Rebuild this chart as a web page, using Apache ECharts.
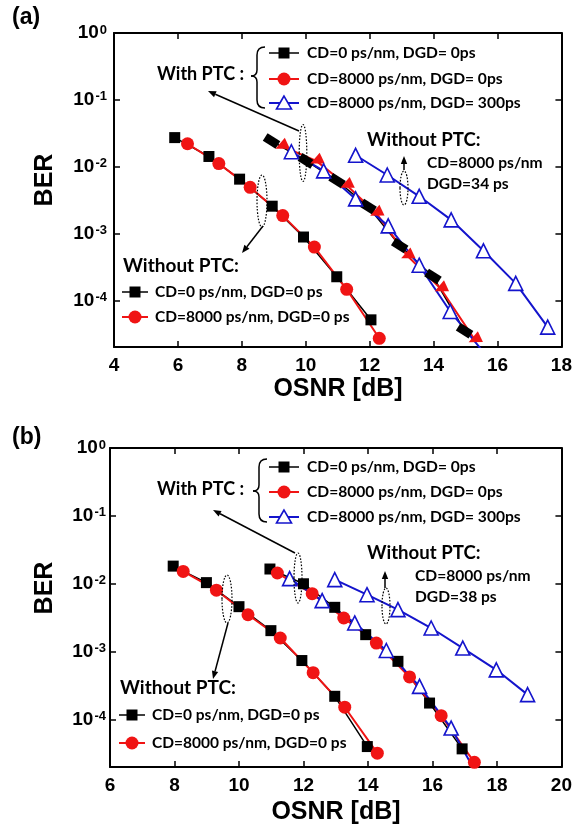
<!DOCTYPE html>
<html>
<head>
<meta charset="utf-8">
<script src="https://cdn.jsdelivr.net/npm/echarts@6/dist/echarts.min.js"></script>
<style>
  html, body { margin: 0; padding: 0; background: #fff; }
  #chart { width: 575px; height: 828px; }
</style>
</head>
<body>
<div id="chart"></div>
<script>
// ---- Panel (a): BER versus OSNR ----
const osnrA_noPtc_cd0    = [5.9, 6.97, 7.93, 8.95, 9.93, 10.97, 12.04];
const berA_noPtc_cd0     = [2.72e-2, 1.42e-2, 6.5e-3, 2.56e-3, 8.85e-4, 2.25e-4, 5.1e-5];
const osnrA_noPtc_cd8000 = [6.3, 7.28, 8.26, 9.28, 10.27, 11.28, 12.3];
const berA_noPtc_cd8000  = [2.2e-2, 1.11e-2, 4.9e-3, 1.85e-3, 6.25e-4, 1.46e-4, 2.7e-5];
const osnrA_ptc_cd0      = [8.93, 10.02, 10.98, 11.95, 12.94, 13.98, 14.97];
const berA_ptc_cd0       = [2.42e-2, 1.22e-2, 6.15e-3, 2.52e-3, 6.6e-4, 2.27e-4, 3.5e-5];
const osnrA_ptc_cd8000   = [9.24, 10.33, 11.27, 12.2, 13.17, 14.22, 15.28];
const berA_ptc_cd8000    = [2.04e-2, 1.22e-2, 5.3e-3, 2.03e-3, 4.67e-4, 1.5e-4, 2.6e-5];
const osnrA_ptc_dgd300   = [9.55, 10.56, 11.56, 12.58, 13.55, 14.52, 15.55];
const berA_ptc_dgd300    = [1.67e-2, 8.65e-3, 3.29e-3, 1.3e-3, 3.35e-4, 6.8e-5, 1.7e-5];
const osnrA_noPtc_dgd34  = [11.56, 12.55, 13.55, 14.55, 15.56, 16.57, 17.57];
const berA_noPtc_dgd34   = [1.48e-2, 7.5e-3, 3.6e-3, 1.6e-3, 5.5e-4, 1.79e-4, 3.97e-5];

// ---- Panel (b): BER versus OSNR ----
const osnrB_noPtc_cd0    = [7.96, 8.99, 10.0, 10.99, 11.95, 12.97, 13.98];
const berB_noPtc_cd0     = [1.82e-2, 1.04e-2, 4.6e-3, 2.04e-3, 7.4e-4, 2.2e-4, 4.0e-5];
const osnrB_noPtc_cd8000 = [8.27, 9.3, 10.28, 11.28, 12.3, 13.28, 14.29];
const berB_noPtc_cd8000  = [1.52e-2, 8.05e-3, 3.5e-3, 1.59e-3, 4.9e-4, 1.52e-4, 3.2e-5];
const osnrB_ptc_cd0      = [10.96, 12.0, 12.97, 13.93, 14.93, 15.91, 16.92];
const berB_ptc_cd0       = [1.65e-2, 1.0e-2, 4.5e-3, 1.78e-3, 7.2e-4, 1.75e-4, 3.7e-5];
const osnrB_ptc_cd8000   = [11.19, 12.27, 13.25, 14.26, 15.29, 16.27, 17.3];
const berB_ptc_cd8000    = [1.44e-2, 7.15e-3, 3.13e-3, 1.34e-3, 4.24e-4, 1.14e-4, 2.34e-5];
const osnrB_ptc_dgd300   = [11.57, 12.58, 13.59, 14.57, 15.6, 16.58, 17.6];
const berB_ptc_dgd300    = [1.19e-2, 5.64e-3, 2.65e-3, 1.04e-3, 3.08e-4, 7.5e-5, 1.0e-5];
const osnrB_noPtc_dgd38  = [12.97, 13.97, 14.93, 15.96, 16.94, 17.98, 18.95];
const berB_noPtc_dgd38   = [1.15e-2, 6.9e-3, 4.16e-3, 2.23e-3, 1.13e-3, 5.4e-4, 2.33e-4];

// FEC threshold and axis ranges
const berThreshold = 1e-3;
const osnrRangeA = [4, 18];
const osnrRangeB = [6, 20];
const berRange = [2e-5, 1];

const RED = '#f01414';
const BLUE = '#1414cc';
const BLACK = '#000000';
const NOTE_FONT = 'Lato, "Open Sans", sans-serif';
const AXIS_FONT = '"Liberation Sans", Arial, sans-serif';

const zip = (xs, ys) => xs.map((x, i) => [x, ys[i]]);

function xAxes(gridIndex, range) {
  const common = {
    gridIndex, type: 'value', min: range[0], max: range[1], interval: 2,
    axisLine: { show: true, onZero: false, lineStyle: { color: BLACK, width: 2 } },
    axisTick: { show: true, inside: true, length: 6, lineStyle: { color: BLACK, width: 1.5 } },
    splitLine: { show: false }
  };
  return [
    Object.assign({}, common, {
      position: 'bottom',
      axisLabel: { color: BLACK, fontSize: 19, fontWeight: 'bold', fontFamily: AXIS_FONT, margin: 9 }
    }),
    Object.assign({}, common, { position: 'top', axisLabel: { show: false } })
  ];
}

function yAxes(gridIndex, margin) {
  const common = {
    gridIndex, type: 'log', logBase: 10, min: berRange[0], max: berRange[1],
    axisLine: { show: true, onZero: false, lineStyle: { color: BLACK, width: 2 } },
    axisTick: { show: true, inside: true, length: 6, lineStyle: { color: BLACK, width: 1.5 } },
    minorTick: { show: false },
    splitLine: { show: false }
  };
  return [
    Object.assign({}, common, {
      position: 'left',
      axisLabel: {
        showMinLabel: false, margin,
        color: BLACK, fontSize: 19, fontWeight: 'bold', fontFamily: AXIS_FONT,
        formatter: v => '10{s|' + Math.round(Math.log10(v)) + '}',
        rich: { s: { fontSize: 13, fontWeight: 'bold', fontFamily: AXIS_FONT, color: BLACK, verticalAlign: 'top', padding: [0, 0, 0, 1] } }
      }
    }),
    Object.assign({}, common, { position: 'right', axisLabel: { show: false } })
  ];
}

function curve(name, xs, ys, xi, yi, color, symbol, extra) {
  return Object.assign({
    name, type: 'line', xAxisIndex: xi, yAxisIndex: yi,
    data: zip(xs, ys), color,
    lineStyle: { color, width: 2 },
    symbol, symbolSize: 12,
    itemStyle: { color },
    clip: true, silent: true, z: 3
  }, extra || {});
}

const openTriangle = {
  symbol: 'triangle', symbolSize: 14,
  itemStyle: { color: '#ffffff', borderColor: BLUE, borderWidth: 1.6 }
};

const thresholdLine = {
  silent: true, symbol: ['none', 'none'], label: { show: false },
  lineStyle: { type: 'dotted', color: '#8c8c4a', width: 1.6 },
  data: [{ yAxis: berThreshold }]
};

const series = [
  // panel (a)
  curve('A w/o PTC CD=0', osnrA_noPtc_cd0, berA_noPtc_cd0, 0, 0, BLACK, 'rect',
        { symbolSize: 11, lineStyle: { color: BLACK, width: 1.5 }, markLine: thresholdLine }),
  curve('A w/o PTC CD=8000', osnrA_noPtc_cd8000, berA_noPtc_cd8000, 0, 0, RED, 'circle', { symbolSize: 13 }),
  curve('A PTC CD=0', osnrA_ptc_cd0, berA_ptc_cd0, 0, 0, BLACK, 'rect',
        { symbolSize: [15, 9], symbolRotate: -32, lineStyle: { color: BLACK, width: 1.5 } }),
  curve('A PTC CD=8000', osnrA_ptc_cd8000, berA_ptc_cd8000, 0, 0, RED, 'triangle',
        { symbolSize: [12, 13], symbolRotate: 115 }),
  curve('A PTC DGD=300', osnrA_ptc_dgd300, berA_ptc_dgd300, 0, 0, BLUE, 'triangle', openTriangle),
  curve('A w/o PTC DGD=34', osnrA_noPtc_dgd34, berA_noPtc_dgd34, 0, 0, BLUE, 'triangle', openTriangle),
  // panel (b)
  curve('B w/o PTC CD=0', osnrB_noPtc_cd0, berB_noPtc_cd0, 2, 2, BLACK, 'rect',
        { symbolSize: 11, lineStyle: { color: BLACK, width: 1.5 }, markLine: thresholdLine }),
  curve('B w/o PTC CD=8000', osnrB_noPtc_cd8000, berB_noPtc_cd8000, 2, 2, RED, 'circle', { symbolSize: 13 }),
  curve('B PTC CD=0', osnrB_ptc_cd0, berB_ptc_cd0, 2, 2, BLACK, 'rect',
        { symbolSize: 11, lineStyle: { color: BLACK, width: 1.5 } }),
  curve('B PTC CD=8000', osnrB_ptc_cd8000, berB_ptc_cd8000, 2, 2, RED, 'circle', { symbolSize: 13 }),
  curve('B PTC DGD=300', osnrB_ptc_dgd300, berB_ptc_dgd300, 2, 2, BLUE, 'triangle', openTriangle),
  curve('B w/o PTC DGD=38', osnrB_noPtc_dgd38, berB_noPtc_dgd38, 2, 2, BLUE, 'triangle', openTriangle)
];

// ---- annotation helpers ----
function txt(s, x, y, size, opts) {
  const o = opts || {};
  return {
    type: 'text', x, y, rotation: o.rotation || 0, z: 10,
    style: {
      text: s, font: 'bold ' + size + 'px ' + (o.family || NOTE_FONT), fill: BLACK,
      textAlign: o.align || 'left', align: o.align || 'left',
      textVerticalAlign: 'middle', verticalAlign: 'middle'
    }
  };
}

function arrow(x1, y1, x2, y2) {
  const dx = x2 - x1, dy = y2 - y1, L = Math.hypot(dx, dy);
  const ux = dx / L, uy = dy / L, hl = 8, hw = 3.2;
  const bx = x2 - ux * hl, by = y2 - uy * hl;
  return [
    { type: 'line', z: 10, shape: { x1, y1, x2: bx, y2: by }, style: { stroke: BLACK, lineWidth: 1.5 } },
    { type: 'polygon', z: 10, shape: { points: [[x2, y2], [bx - uy * hw, by + ux * hw], [bx + uy * hw, by - ux * hw]] }, style: { fill: BLACK } }
  ];
}

function ring(cx, cy, rx, ry) {
  return { type: 'ellipse', z: 10, shape: { cx, cy, rx, ry },
           style: { fill: 'none', stroke: BLACK, lineWidth: 1.2, lineDash: [1.6, 1.6] } };
}

// curly brace built from quadratic curves and straight runs
function brace(x, top, bottom, tipX, tipY) {
  const st = { fill: 'none', stroke: BLACK, lineWidth: 1.5 };
  const q = (x1, y1, cx, cy, x2, y2) => ({ type: 'bezierCurve', z: 10, shape: { x1, y1, cpx1: cx, cpy1: cy, x2, y2 }, style: st });
  const l = (x1, y1, x2, y2) => ({ type: 'line', z: 10, shape: { x1, y1, x2, y2 }, style: st });
  return [
    q(x + 8, top, x, top, x, top + 8),
    l(x, top + 8, x, tipY - 6),
    q(x, tipY - 6, x, tipY, tipX, tipY),
    q(tipX, tipY, x, tipY, x, tipY + 6),
    l(x, tipY + 6, x, bottom - 8),
    q(x, bottom - 8, x, bottom, x + 8, bottom)
  ];
}

function swatch(cx, y, half, kind) {
  const col = kind === 'sq' ? BLACK : kind === 'ci' ? RED : BLUE;
  const els = [{ type: 'line', z: 10, shape: { x1: cx - half, y1: y, x2: cx + half, y2: y },
                 style: { stroke: col, lineWidth: kind === 'sq' ? 1.5 : 2 } }];
  if (kind === 'sq') els.push({ type: 'rect', z: 11, shape: { x: cx - 5.5, y: y - 5.5, width: 11, height: 11 }, style: { fill: BLACK } });
  if (kind === 'ci') els.push({ type: 'circle', z: 11, shape: { cx, cy: y, r: 6.5 }, style: { fill: RED } });
  if (kind === 'tr') els.push({ type: 'polygon', z: 11, shape: { points: [[cx, y - 7], [cx - 7.5, y + 6], [cx + 7.5, y + 6]] },
                                style: { fill: '#ffffff', stroke: BLUE, lineWidth: 1.6 } });
  return els;
}

function panelNotes(p) {
  const g = [];
  g.push(txt(p.tag, 12, p.tagY, 23, { family: AXIS_FONT }));
  g.push(txt('BER', 45, p.berY, 25, { family: AXIS_FONT, align: 'center', rotation: Math.PI / 2 }));
  g.push(txt('OSNR [dB]', p.osnrX, p.osnrY, 25, { family: AXIS_FONT, align: 'center' }));
  // with-PTC legend
  g.push(txt('With PTC :', 157, p.withY, 18));
  g.push(...brace(p.braceX, p.braceTop, p.braceBottom, p.braceX - 6, p.withY + 2));
  const labels = ['CD=0 ps/nm, DGD= 0ps', 'CD=8000 ps/nm, DGD= 0ps', 'CD=8000 ps/nm, DGD= 300ps'];
  ['sq', 'ci', 'tr'].forEach((k, i) => {
    g.push(...swatch(284, p.legY[i], 15, k));
    g.push(txt(labels[i], 307, p.legY[i], 15.6));
  });
  g.push(...arrow(p.ptcArrow[0], p.ptcArrow[1], p.ptcArrow[2], p.ptcArrow[3]));
  g.push(ring(p.ptcRing[0], p.ptcRing[1], p.ptcRing[2], p.ptcRing[3]));
  // without-PTC note for the dispersed curve
  g.push(txt('Without PTC:', 367, p.noteY, 18.6));
  g.push(txt('CD=8000 ps/nm', p.noteX, p.noteY + 23, 15.6));
  g.push(txt(p.dgdText, p.noteX, p.noteY + 44, 15.6));
  g.push(...arrow(p.upArrow[0], p.upArrow[1], p.upArrow[2], p.upArrow[3]));
  g.push(ring(p.upRing[0], p.upRing[1], p.upRing[2], p.upRing[3]));
  // without-PTC legend
  g.push(ring(p.lowRing[0], p.lowRing[1], p.lowRing[2], p.lowRing[3]));
  g.push(...arrow(p.lowArrow[0], p.lowArrow[1], p.lowArrow[2], p.lowArrow[3]));
  g.push(txt('Without PTC:', p.lowX, p.lowY, 19));
  g.push(...swatch(p.lowX + 12, p.lowLeg[0], 13, 'sq'));
  g.push(txt('CD=0 ps/nm, DGD=0 ps', p.lowX + 32, p.lowLeg[0], 15.5));
  g.push(...swatch(p.lowX + 12, p.lowLeg[1], 13, 'ci'));
  g.push(txt('CD=8000 ps/nm, DGD=0 ps', p.lowX + 32, p.lowLeg[1], 15.5));
  return g;
}

const notes = [].concat(
  panelNotes({
    tag: '(a)', tagY: 18, berY: 180, osnrX: 338, osnrY: 389,
    withY: 74, braceX: 257, braceTop: 47, braceBottom: 108, legY: [53, 79, 103],
    ptcArrow: [299, 131, 208, 91], ptcRing: [303, 153, 3.8, 28.5],
    noteY: 140, noteX: 427, dgdText: 'DGD=34 ps',
    upArrow: [404, 170, 404, 156], upRing: [404, 188, 4, 17],
    lowRing: [262, 201, 5, 26], lowArrow: [263, 226, 242, 253],
    lowX: 123, lowY: 266, lowLeg: [292, 317]
  }),
  panelNotes({
    tag: '(b)', tagY: 438, berY: 588, osnrX: 336, osnrY: 812,
    withY: 489, braceX: 259, braceTop: 459, braceBottom: 522, legY: [467, 492, 517],
    ptcArrow: [295, 553, 213, 510], ptcRing: [298, 578, 4, 25],
    noteY: 553, noteX: 415, dgdText: 'DGD=38 ps',
    upArrow: [385, 588, 385, 571], upRing: [386, 606, 4, 18],
    lowRing: [227, 599, 5, 24], lowArrow: [228, 623, 213, 679],
    lowX: 120, lowY: 688, lowLeg: [715, 743]
  })
);

const chart = echarts.init(document.getElementById('chart'), null, { renderer: 'canvas' });
chart.setOption({
  animation: false,
  backgroundColor: '#ffffff',
  grid: [
    { left: 114, top: 33, width: 448, height: 314 },
    { left: 110, top: 448, width: 452, height: 319 }
  ],
  xAxis: [].concat(xAxes(0, osnrRangeA), xAxes(1, osnrRangeB)),
  yAxis: [].concat(yAxes(0, 7), yAxes(1, 4)),
  series,
  graphic: { elements: notes }
});
</script>
</body>
</html>
